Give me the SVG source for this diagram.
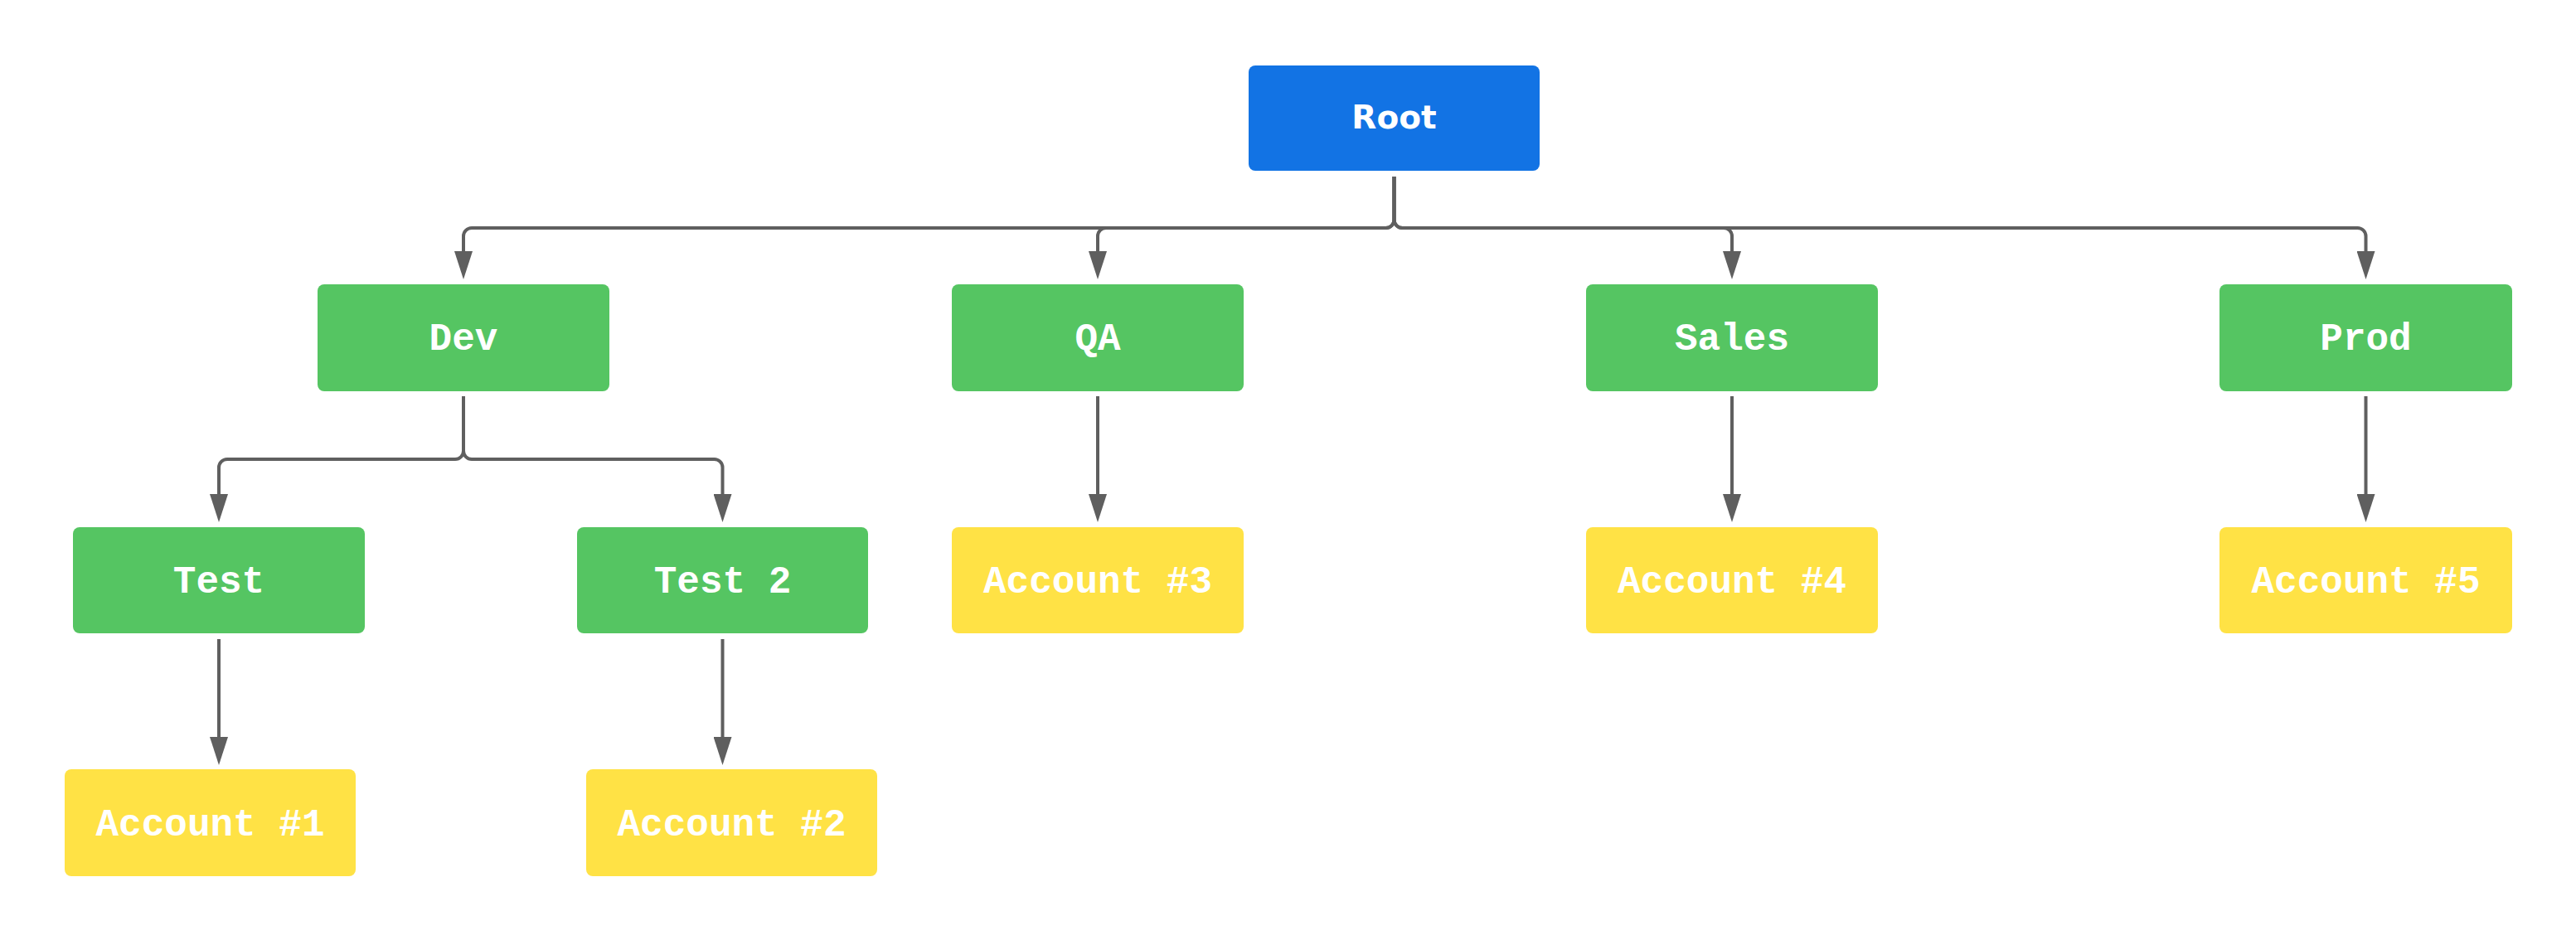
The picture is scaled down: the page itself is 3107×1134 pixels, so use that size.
<svg xmlns="http://www.w3.org/2000/svg" width="3107" height="1134" viewBox="0 0 3107 1134">
<style>
.root{fill:#1273e4}
.grp{fill:#55c562}
.acc{fill:#ffe245}
.lbl{fill:#ffffff;font-family:"Liberation Mono","DejaVu Sans Mono",monospace;font-weight:bold;font-size:46px;text-anchor:middle}
.rlbl{fill:#ffffff;font-family:"DejaVu Sans","Noto Sans",sans-serif;font-weight:bold;font-size:39px;text-anchor:middle}
.edge{fill:none;stroke:#5f5f5f;stroke-width:4;marker-end:url(#arr)}
</style>
<defs>
<marker id="arr" viewBox="0 0 34 22" refX="0" refY="11" markerWidth="34" markerHeight="22" markerUnits="userSpaceOnUse" orient="auto">
<path d="M0,0 L34,11 L0,22 z" fill="#5f5f5f"/>
</marker>
</defs>
<rect width="3107" height="1134" fill="#ffffff"/>
<g id="connectors">
<path class="edge" d="M1681.5,213 V265 A10 10 0 0 1 1671.5 275 H569 A10 10 0 0 0 559 285 V303"/>
<path class="edge" d="M1681.5,213 V265 A10 10 0 0 1 1671.5 275 H1334 A10 10 0 0 0 1324 285 V303"/>
<path class="edge" d="M1681.5,213 V265 A10 10 0 0 0 1691.5 275 H2079 A10 10 0 0 1 2089 285 V303"/>
<path class="edge" d="M1681.5,213 V265 A10 10 0 0 0 1691.5 275 H2843.5 A10 10 0 0 1 2853.5 285 V303"/>
<path class="edge" d="M559,478 V544 A10 10 0 0 1 549 554 H274 A10 10 0 0 0 264 564 V596"/>
<path class="edge" d="M559,478 V544 A10 10 0 0 0 569 554 H861.5 A10 10 0 0 1 871.5 564 V596"/>
<path class="edge" d="M1324,478 V596"/>
<path class="edge" d="M2089,478 V596"/>
<path class="edge" d="M2853.5,478 V596"/>
<path class="edge" d="M264,771 V889"/>
<path class="edge" d="M871.5,771 V889"/>
</g>
<g id="root"><rect class="root" x="1506" y="79" width="351" height="127" rx="8"/><text class="rlbl" x="1681.5" y="155">Root</text></g>
<g id="dev"><rect class="grp" x="383" y="343" width="352" height="129" rx="8"/><text class="lbl" x="559" y="422">Dev</text></g>
<g id="qa"><rect class="grp" x="1148" y="343" width="352" height="129" rx="8"/><text class="lbl" x="1324" y="422">QA</text></g>
<g id="sales"><rect class="grp" x="1913" y="343" width="352" height="129" rx="8"/><text class="lbl" x="2089" y="422">Sales</text></g>
<g id="prod"><rect class="grp" x="2677" y="343" width="353" height="129" rx="8"/><text class="lbl" x="2853.5" y="422">Prod</text></g>
<g id="test"><rect class="grp" x="88" y="636" width="352" height="128" rx="8"/><text class="lbl" x="264" y="715">Test</text></g>
<g id="test2"><rect class="grp" x="696" y="636" width="351" height="128" rx="8"/><text class="lbl" x="871.5" y="715">Test 2</text></g>
<g id="acc3"><rect class="acc" x="1148" y="636" width="352" height="128" rx="8"/><text class="lbl" x="1324" y="715">Account #3</text></g>
<g id="acc4"><rect class="acc" x="1913" y="636" width="352" height="128" rx="8"/><text class="lbl" x="2089" y="715">Account #4</text></g>
<g id="acc5"><rect class="acc" x="2677" y="636" width="353" height="128" rx="8"/><text class="lbl" x="2853.5" y="715">Account #5</text></g>
<g id="acc1"><rect class="acc" x="78" y="928" width="351" height="129" rx="8"/><text class="lbl" x="253.5" y="1008">Account #1</text></g>
<g id="acc2"><rect class="acc" x="707" y="928" width="351" height="129" rx="8"/><text class="lbl" x="882.5" y="1008">Account #2</text></g>
</svg>
